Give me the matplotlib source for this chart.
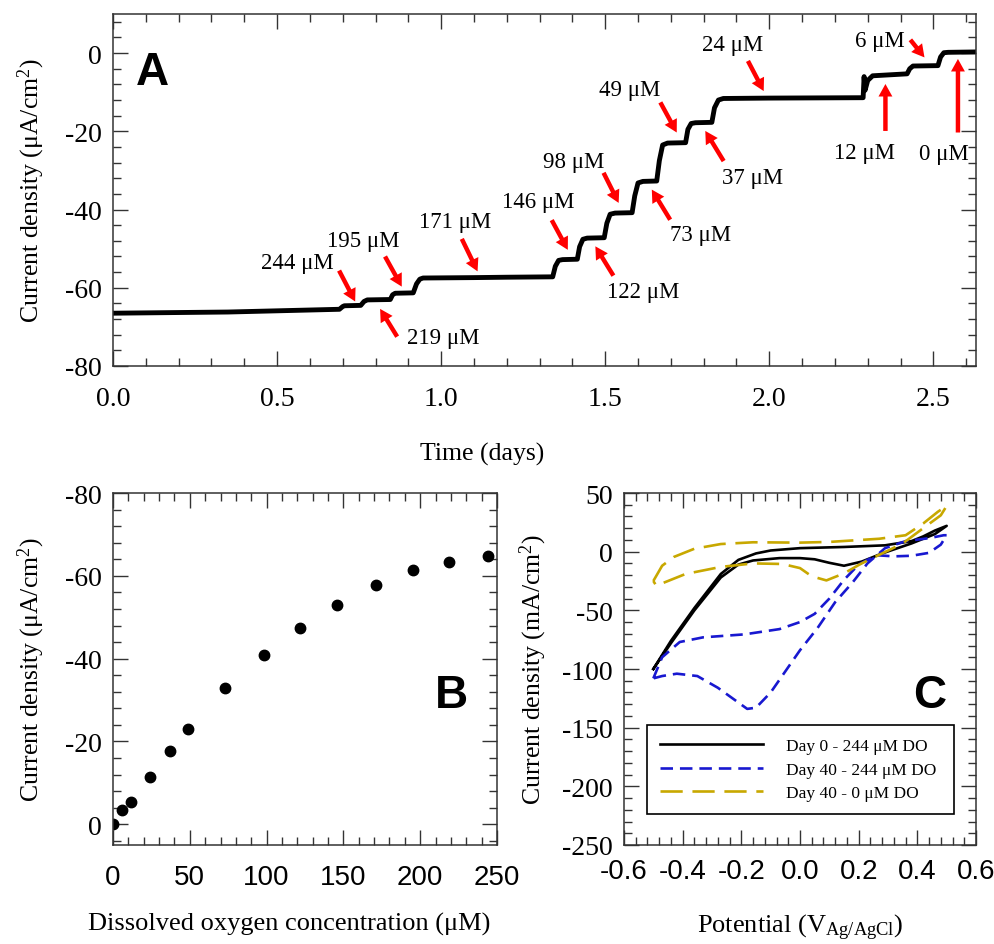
import matplotlib.pyplot as plt
from matplotlib.ticker import MultipleLocator

plt.rcParams['font.family'] = 'Liberation Serif'
plt.rcParams['mathtext.fontset'] = 'custom'
plt.rcParams['mathtext.rm'] = 'Liberation Serif'
plt.rcParams['mathtext.it'] = 'Liberation Serif:italic'
plt.rcParams['axes.unicode_minus'] = False
plt.rcParams['lines.scale_dashes'] = False

# ---- panel A: current vs time trace (days, uA/cm2)
trace_t = [0.00, 0.35, 0.690, 0.700, 0.705, 0.755, 0.765, 0.775, 0.845, 0.852, 0.860,
           0.915, 0.925, 0.935, 0.945, 1.10, 1.20, 1.340, 1.348, 1.358, 1.370, 1.415,
           1.422, 1.432, 1.445, 1.497, 1.505, 1.515, 1.530, 1.582, 1.590, 1.600, 1.615,
           1.657, 1.665, 1.675, 1.690, 1.745, 1.752, 1.762, 1.775, 1.825, 1.833, 1.845,
           1.860, 2.00, 2.286, 2.289, 2.292, 2.300, 2.315, 2.420, 2.428, 2.438, 2.514,
           2.522, 2.532, 2.545, 2.63]
trace_j = [-66.5, -66.2, -65.5, -64.8, -64.6, -64.5, -63.5, -63.1, -63.0, -61.8, -61.4,
           -61.3, -59.0, -57.8, -57.5, -57.4, -57.3, -57.2, -54.5, -53.0, -52.8, -52.7,
           -49.5, -47.6, -47.3, -47.2, -43.5, -41.2, -40.9, -40.8, -36.5, -33.2, -32.8,
           -32.7, -27.5, -23.5, -23.0, -22.9, -19.5, -18.0, -17.8, -17.7, -14.0, -12.0,
           -11.6, -11.5, -11.4, -6.0, -9.5, -7.0, -5.8, -5.3, -4.0, -3.3, -3.2,
           -1.0, 0.1, 0.2, 0.3]

# callouts: label, text position, arrow tail, arrow head
callouts = [
    ('244 μM', (0.561, -53.6), (0.689, -55.6), (0.738, -63.5)),
    ('195 μM', (0.763, -47.9), (0.829, -52.0), (0.880, -59.7)),
    ('219 μM', (1.007, -72.8), (0.866, -72.5), (0.814, -65.4)),
    ('171 μM', (1.043, -43.0), (1.063, -47.5), (1.111, -55.8)),
    ('146 μM', (1.297, -37.9), (1.337, -42.7), (1.386, -50.3)),
    ('98 μM', (1.403, -27.8), (1.495, -30.6), (1.541, -38.3)),
    ('122 μM', (1.617, -60.9), (1.525, -56.9), (1.470, -49.4)),
    ('73 μM', (1.790, -46.4), (1.698, -42.6), (1.642, -34.9)),
    ('49 μM', (1.576, -9.4), (1.668, -12.6), (1.718, -20.3)),
    ('37 μM', (1.949, -31.7), (1.861, -27.6), (1.805, -19.9)),
    ('24 μM', (1.888, 2.3), (1.935, -2.0), (1.983, -9.7)),
    ('12 μM', (2.290, -25.5), (2.354, -19.9), (2.354, -7.9)),
    ('0 μM', (2.531, -25.6), (2.575, -20.3), (2.575, -1.5)),
    ('6 μM', (2.338, 3.3), (2.430, 3.4), (2.473, -1.1)),
]

# ---- panel B: steady current vs dissolved oxygen
do_conc = [0, 6, 12, 24, 37, 49, 73, 98, 122, 146, 171, 195, 219, 244]
do_current = [0, -3.5, -5.5, -11.5, -17.6, -23.1, -33.0, -41.0, -47.3, -52.9,
              -57.7, -61.5, -63.4, -64.8]

# ---- panel C: cyclic voltammograms (V vs Ag/AgCl, mA/cm2)
day0_v = [-0.50, -0.44, -0.36, -0.27, -0.21, -0.15, -0.10, 0.00, 0.15, 0.29, 0.38, 0.42,
          0.46, 0.50, 0.46, 0.38, 0.28, 0.21, 0.15, 0.10, 0.05, 0.00, -0.07, -0.16,
          -0.21, -0.27, -0.36, -0.44, -0.50]
day0_j = [-100, -76, -48, -19, -7, -1.5, 1, 3, 4, 5.4, 9, 13,
          18, 22, 15, 7, -1.5, -8.5, -12, -9.5, -6.5, -5.5, -5.5, -7.5,
          -11, -22, -50, -78, -100]

day40_v = [-0.50, -0.47, -0.41, -0.33, -0.19, -0.07, 0.00, 0.05, 0.10, 0.15, 0.20, 0.26,
           0.32, 0.38, 0.44, 0.48, 0.50, 0.49, 0.44, 0.36, 0.29, 0.23, 0.18, 0.12,
           0.06, 0.00, -0.05, -0.10, -0.15, -0.18, -0.23, -0.28, -0.35, -0.42, -0.47, -0.50]
day40_j = [-108, -90, -77, -73, -70.5, -66, -60, -53, -40, -24, -11, -3,
           -4, -3.5, -1, 6, 14, 14, 11.5, 9, 3, -10, -26, -43,
           -65, -84, -102, -120, -133, -134, -125, -116, -106, -104, -106, -108]

day40_0_v = [-0.50, -0.47, -0.43, -0.36, -0.27, -0.16, 0.00, 0.10, 0.27, 0.36, 0.42, 0.47,
             0.50, 0.48, 0.42, 0.35, 0.28, 0.21, 0.15, 0.09, 0.04, 0.00, -0.06, -0.16,
             -0.27, -0.39, -0.49, -0.50]
day40_0_j = [-25, -12, -4.5, 2.5, 6.5, 8, 7.7, 8.3, 11, 14, 24, 34,
             39, 31, 20, 7, -1.5, -10, -18.5, -24.5, -21, -14, -10.5, -10,
             -13, -19, -29, -25]

c_xticks = [-0.6, -0.4, -0.2, 0.0, 0.2, 0.4, 0.6]
c_xlabels = ['-0.6', '-0.4', '-0.2', '0.0', '0.2', '0.4', '0.6']
b_xticks = [0, 50, 100, 150, 200, 250]
b_xlabels = ['0', '50', '100', '150', '200', '250']

W, H = 995, 945
fig = plt.figure(figsize=(W / 100, H / 100), dpi=100)
axA = fig.add_axes([113 / W, 1 - 367 / H, 863 / W, 352 / H])
axB = fig.add_axes([113 / W, 1 - 846 / H, 384 / W, 352 / H])
axC = fig.add_axes([624 / W, 1 - 846 / H, 352 / W, 352 / H])


def style(ax, xpad):
    ax.tick_params(which='both', direction='in', top=True, right=True,
                   color='#333333', width=1, labelsize=20, pad=8)
    ax.tick_params(axis='x', pad=xpad)
    ax.tick_params(which='major', length=11)
    ax.tick_params(which='minor', length=5.5)
    for s in ax.spines.values():
        s.set_color('#333333')
        s.set_linewidth(1.1)


# panel A
axA.plot(trace_t, trace_j, color='black', lw=3.5, solid_joinstyle='round')
for label, txt, tail, head in callouts:
    axA.text(txt[0], txt[1], label, ha='center', va='center', fontsize=16.5)
    axA.annotate('', xy=head, xytext=tail,
                 arrowprops=dict(arrowstyle='simple,head_length=0.9,head_width=1.0,tail_width=0.32',
                                 color='#ff0000', lw=0, shrinkA=0, shrinkB=0,
                                 mutation_scale=10))
axA.set_xlim(0, 2.63)
axA.set_ylim(-80, 10)
axA.set_yticks([-80, -60, -40, -20, 0])
axA.xaxis.set_minor_locator(MultipleLocator(0.1))
axA.yaxis.set_minor_locator(MultipleLocator(4))
axA.set_xticks([0, 0.5, 1.0, 1.5, 2.0, 2.5])
axA.set_xticklabels(['0.0', '0.5', '1.0', '1.5', '2.0', '2.5'])
style(axA, 14.5)
axA.set_xlabel('Time (days)', fontsize=18.5)
axA.set_ylabel('Current density (μA/cm$^{\\mathrm{2}}$)', fontsize=18.5)
axA.xaxis.set_label_coords(0.4276, -0.215)
axA.yaxis.set_label_coords(-0.0764, 0.5)

# panel B
axB.plot(do_conc, do_current, 'o', color='black', ms=7.5)
axB.set_xlim(0, 250)
axB.set_ylim(5, -80)
axB.set_xticks(b_xticks)
axB.set_xticklabels(b_xlabels, fontfamily='Liberation Sans', fontsize=19)
axB.set_yticks([-80, -60, -40, -20, 0])
axB.xaxis.set_minor_locator(MultipleLocator(10))
axB.yaxis.set_minor_locator(MultipleLocator(4))
style(axB, 14)
axB.set_xlabel('Dissolved oxygen concentration (μM)', fontsize=19)
axB.set_ylabel('Current density (μA/cm$^{\\mathrm{2}}$)', fontsize=18.5)
axB.xaxis.set_label_coords(0.458, -0.19)
axB.yaxis.set_label_coords(-0.172, 0.5)

# panel C
axC.plot(day0_v, day0_j, color='black', lw=1.9, label='Day 0 - 244 μM DO')
axC.plot(day40_v, day40_j, color='#1818d0', lw=1.9, dashes=(9, 5),
         label='Day 40 - 244 μM DO')
axC.plot(day40_0_v, day40_0_j, color='#c8a800', lw=1.9, dashes=(16, 7),
         label='Day 40 - 0 μM DO')
axC.set_xlim(-0.6, 0.6)
axC.set_ylim(-250, 50)
axC.set_xticks(c_xticks)
axC.set_xticklabels(c_xlabels, fontfamily='Liberation Sans', fontsize=19)
axC.set_yticks([-250, -200, -150, -100, -50, 0, 50])
axC.xaxis.set_minor_locator(MultipleLocator(0.04))
axC.yaxis.set_minor_locator(MultipleLocator(10))
style(axC, 9.5)
axC.set_xlabel('Potential (V$_{\\mathrm{Ag/AgCl}}$)', fontsize=19)
axC.set_ylabel('Current density (mA/cm$^{\\mathrm{2}}$)', fontsize=18.5)
axC.xaxis.set_label_coords(0.5, -0.19)
axC.yaxis.set_label_coords(-0.212, 0.5)
leg = axC.legend(loc='upper left', bbox_to_anchor=(0.066, 0.072, 0.871, 0.269),
                 mode='expand', borderaxespad=0, fontsize=12.5, handlelength=5.9,
                 handletextpad=1.35, labelspacing=0.42, borderpad=0.75,
                 fancybox=False, framealpha=1)
leg.get_frame().set_edgecolor('black')
leg.get_frame().set_linewidth(1.2)

# panel letters
for letter, x, y in [('A', 152.5, 85), ('B', 451, 708), ('C', 930, 708)]:
    fig.text(x / W, 1 - y / H, letter, ha='center', va='baseline', fontsize=33,
             fontweight='bold', family='Liberation Sans')

fig.savefig('out.png', dpi=100)
